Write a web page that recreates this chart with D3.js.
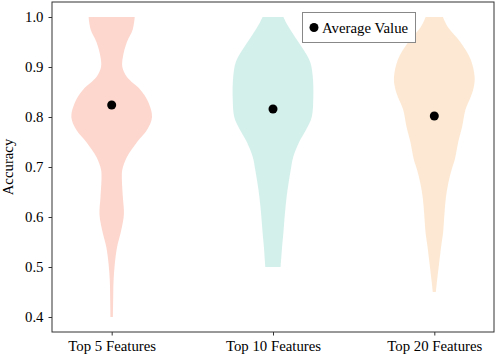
<!DOCTYPE html>
<html>
<head>
<meta charset="utf-8">
<script src="https://cdn.jsdelivr.net/npm/d3@7"></script>
<style>
  html, body { margin: 0; padding: 0; background: #fff; }
  svg { display: block; }
  text { font-family: "Liberation Serif", "Times New Roman", serif; }
</style>
</head>
<body>
<div id="chart"></div>
<script>
// ---- data ----
const categories = ["Top 5 Features", "Top 10 Features", "Top 20 Features"];
const averages = [0.824, 0.816, 0.802];
const yTicks = [0.4, 0.5, 0.6, 0.7, 0.8, 0.9, 1.0];
const colors = ["#fdd7ce", "#d4f0eb", "#fde9d3"];

// violin profiles: accuracy levels and (relative) density
const top5Acc  = [1.00, 0.975, 0.95, 0.92, 0.90, 0.88, 0.855, 0.83, 0.80, 0.775, 0.75, 0.72, 0.695, 0.68, 0.64, 0.605, 0.57, 0.54, 0.505, 0.47, 0.44, 0.40];
const top5Den  = [22.7, 20.7, 15, 11, 10.5, 15, 28, 36, 39.7, 35, 25, 15, 10.5, 10, 11, 12, 9, 5.3, 3, 1.8, 1.5, 1.2];
const top10Acc = [1.00, 0.987, 0.96, 0.935, 0.91, 0.88, 0.84, 0.80, 0.775, 0.75, 0.72, 0.695, 0.67, 0.64, 0.605, 0.57, 0.54, 0.50];
const top10Den = [10, 13, 21, 29, 35.5, 38, 38.5, 37, 31.7, 25, 19.3, 17, 15, 13, 11.3, 10, 8.7, 7.3];
const top20Acc = [1.00, 0.98, 0.95, 0.915, 0.88, 0.86, 0.84, 0.815, 0.78, 0.75, 0.715, 0.695, 0.67, 0.64, 0.605, 0.57, 0.54, 0.505, 0.47, 0.45];
const top20Den = [8.3, 13, 25, 35, 38.8, 38, 35, 30, 26.7, 23, 19.7, 16.7, 13.7, 11.2, 9.7, 8.5, 6.5, 4.5, 2.5, 1.5];

const violins = [
  { acc: top5Acc, den: top5Den },
  { acc: top10Acc, den: top10Den },
  { acc: top20Acc, den: top20Den }
];

// ---- layout ----
const W = 498, H = 359;
const margin = { left: 52, right: 4, top: 2, bottom: 27 };
const plotW = W - margin.left - margin.right;
const plotH = H - margin.top - margin.bottom;
const fontSize = "14.8px";

const svg = d3.select("#chart").append("svg").attr("width", W).attr("height", H);
const g = svg.append("g").attr("transform", `translate(${margin.left},${margin.top})`);

const x = d3.scaleLinear().domain([0.63, 3.37]).range([0, plotW]);
const y = d3.scaleLinear().domain([0.37, 1.03]).range([plotH, 0]);
const halfWidth = 0.25; // in x units

// violins
violins.forEach((v, i) => {
  const maxD = d3.max(v.den);
  const pts = v.acc.map((a, j) => ({ a, d: v.den[j] / maxD }));
  const area = d3.area()
    .y(p => y(p.a))
    .x0(p => x(i + 1 - halfWidth * p.d))
    .x1(p => x(i + 1 + halfWidth * p.d))
    .curve(d3.curveCatmullRom.alpha(0.5));
  g.append("path").datum(pts).attr("d", area).attr("fill", colors[i]).attr("stroke", "none");
});

// average dots
g.selectAll("circle.avg").data(averages).enter().append("circle")
  .attr("class", "avg")
  .attr("cx", (d, i) => x(i + 1))
  .attr("cy", d => y(d))
  .attr("r", 4.5)
  .attr("fill", "#000");

// axes
const yAxis = d3.axisLeft(y).tickValues(yTicks).tickFormat(d3.format(".1f")).tickSize(3.5).tickPadding(5);
const xAxis = d3.axisBottom(x).tickValues([1, 2, 3]).tickFormat((d, i) => categories[i]).tickSize(3.5).tickPadding(5);

const ya = g.append("g").call(yAxis);
const xa = g.append("g").attr("transform", `translate(0,${plotH})`).call(xAxis);
[ya, xa].forEach(a => {
  a.attr("font-family", null).attr("font-size", null);
  a.select(".domain").remove();
  a.selectAll("line").attr("stroke", "#333").attr("stroke-width", 1);
  a.selectAll("text").attr("fill", "#000").style("font-size", fontSize);
});

// frame
g.append("rect").attr("x", 0).attr("y", 0).attr("width", plotW).attr("height", plotH)
  .attr("fill", "none").attr("stroke", "#333").attr("stroke-width", 1);

// y label
svg.append("text")
  .attr("transform", `translate(13,${margin.top + plotH / 2}) rotate(-90)`)
  .attr("text-anchor", "middle")
  .style("font-size", fontSize)
  .attr("fill", "#000")
  .text("Accuracy");

// legend
const lg = svg.append("g").attr("transform", "translate(302,12)");
lg.append("rect").attr("x", 0.5).attr("y", 0.5).attr("width", 113).attr("height", 30)
  .attr("fill", "#fff").attr("stroke", "#888").attr("stroke-width", 1);
lg.append("circle").attr("cx", 12).attr("cy", 15.5).attr("r", 4.5).attr("fill", "#000");
lg.append("text").attr("x", 20).attr("y", 20.5).style("font-size", fontSize).attr("fill", "#000").text("Average Value");
</script>
</body>
</html>
